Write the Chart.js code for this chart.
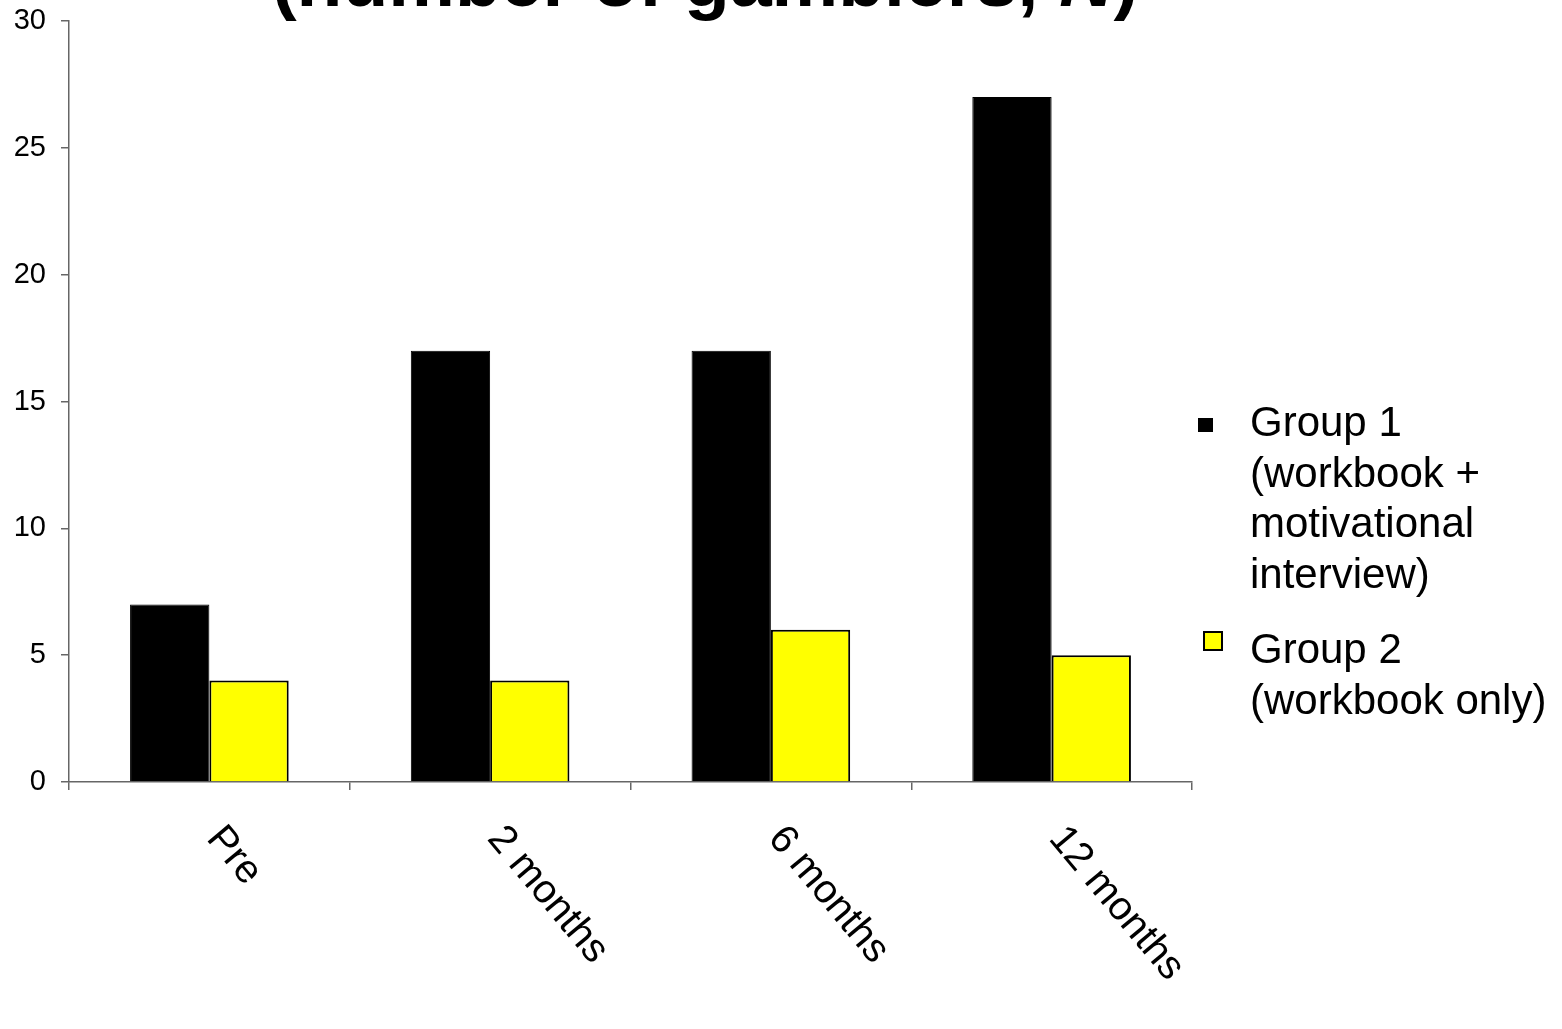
<!DOCTYPE html>
<html>
<head>
<meta charset="utf-8">
<title>Gamblers by group</title>
<script src="https://cdn.jsdelivr.net/npm/chart.js@4.4.1/dist/chart.umd.min.js"></script>
<style>
    html, body { margin: 0; padding: 0; background: #ffffff; }
    #wrap { width: 1562px; height: 1029px; position: relative; }
</style>
</head>
<body>
<div id="wrap"><canvas id="gamblersChart"></canvas></div>
<script>
// === GAMBLERS BAR CHART ===

const timepoints = ['Pre', '2 months', '6 months', '12 months'];
const group1Values = [7, 17, 17, 27];
const group2Values = [4, 4, 6, 5];
const group1Lines = ['Group 1', '(workbook +', 'motivational', 'interview)'];
const group2Lines = ['Group 2', '(workbook only)'];
const yTicks = [0, 5, 10, 15, 20, 25, 30];

const FONT = 'Arial, "Liberation Sans", sans-serif';

// title, slanted category labels and the wrapped legend are drawn by hand
const extrasPlugin = {
    id: 'extras',
    afterDraw(chart) {
        const ctx = chart.ctx;
        const xScale = chart.scales.x;
        const area = chart.chartArea;

        // title (sits partly above the canvas top)
        ctx.save();
        ctx.fillStyle = '#000';
        ctx.textBaseline = 'alphabetic';
        ctx.textAlign = 'left';
        const boldFont = 'bold 75px ' + FONT;
        const italicFont = 'italic bold 75px ' + FONT;
        const parts = [['(number of gamblers, ', boldFont], ['N', italicFont], [')', boldFont]];
        let total = 0;
        parts.forEach(p => { ctx.font = p[1]; total += ctx.measureText(p[0]).width; });
        let tx = 705 - total / 2;
        parts.forEach(p => {
            ctx.font = p[1];
            ctx.fillText(p[0], tx, 6);
            tx += ctx.measureText(p[0]).width;
        });
        ctx.restore();

        // category labels slanting down to the right
        ctx.save();
        ctx.font = '40px ' + FONT;
        ctx.fillStyle = '#000';
        ctx.textAlign = 'left';
        ctx.textBaseline = 'alphabetic';
        timepoints.forEach((label, i) => {
            const x = xScale.getPixelForValue(i);
            ctx.save();
            ctx.translate(x - 4, area.bottom + 57);
            ctx.rotate(50 * Math.PI / 180);
            ctx.fillText(label, 0, 0);
            ctx.restore();
        });
        ctx.restore();

        // legend with wrapped text
        ctx.save();
        ctx.font = '42px ' + FONT;
        ctx.textAlign = 'left';
        ctx.textBaseline = 'alphabetic';
        const ds = chart.data.datasets;

        ctx.fillStyle = ds[0].backgroundColor;
        ctx.fillRect(1198, 418, 15, 14);
        ctx.fillStyle = '#000';
        group1Lines.forEach((line, j) => ctx.fillText(line, 1250, 436 + j * 50.5));

        ctx.fillStyle = ds[1].backgroundColor;
        ctx.strokeStyle = '#000';
        ctx.lineWidth = 2;
        ctx.fillRect(1204, 632, 18, 18);
        ctx.strokeRect(1204, 632, 18, 18);
        ctx.fillStyle = '#000';
        group2Lines.forEach((line, j) => ctx.fillText(line, 1250, 663 + j * 50.5));
        ctx.restore();
    }
};

const canvas = document.getElementById('gamblersChart');

new Chart(canvas, {
    type: 'bar',
    data: {
        labels: timepoints,
        datasets: [
            {
                label: group1Lines.join(' '),
                data: group1Values,
                backgroundColor: '#000000',
                borderColor: '#000000',
                borderWidth: 1,
                categoryPercentage: 0.565,
                barPercentage: 1.0
            },
            {
                label: group2Lines.join(' '),
                data: group2Values,
                backgroundColor: '#ffff00',
                borderColor: '#000000',
                borderWidth: 2,
                categoryPercentage: 0.565,
                barPercentage: 1.0
            }
        ]
    },
    options: {
        responsive: true,
        maintainAspectRatio: false,
        animation: false,
        layout: {
            padding: { top: 21, right: 370, bottom: 239, left: 0 }
        },
        plugins: {
            legend: { display: false },
            title: { display: false },
            tooltip: { enabled: false }
        },
        scales: {
            x: {
                offset: true,
                grid: {
                    offset: true,
                    drawOnChartArea: false,
                    drawTicks: true,
                    tickLength: 8,
                    color: '#666666',
                    lineWidth: 1.5
                },
                border: { display: true, color: '#666666', width: 1.5 },
                ticks: { display: false }
            },
            y: {
                min: 0,
                max: 30,
                afterFit(scale) {
                    // fixed axis width, let the top label overhang the padding
                    scale.width = 69;
                    scale.paddingTop = 0;
                    scale.paddingBottom = 0;
                },
                afterBuildTicks(scale) { scale.ticks = yTicks.map(v => ({ value: v })); },
                grid: {
                    drawOnChartArea: false,
                    drawTicks: true,
                    tickLength: 8,
                    color: '#666666',
                    lineWidth: 1.5
                },
                border: { display: true, color: '#666666', width: 1.5 },
                ticks: {
                    padding: 15,
                    color: '#000',
                    font: { family: FONT, size: 29 }
                }
            }
        }
    },
    plugins: [extrasPlugin]
});
</script>
</body>
</html>
